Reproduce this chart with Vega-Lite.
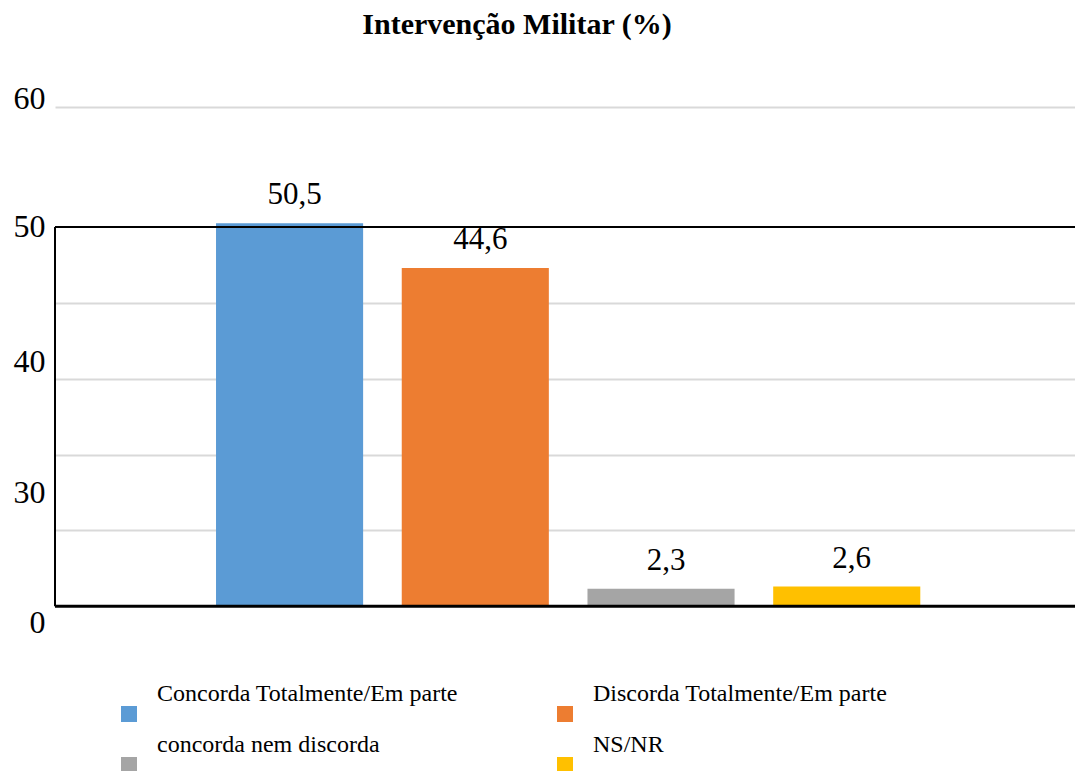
{
  "$schema": "https://vega.github.io/schema/vega-lite/v6.json",
  "width": 1020,
  "height": 531,
  "autosize": "none",
  "padding": {"left": 55, "top": 98, "right": 0, "bottom": 142},
  "background": "white",
  "config": {
    "view": {"stroke": null},
    "font": "'Liberation Serif', 'Times New Roman', serif",
    "locale": {"number": {"decimal": ",", "thousands": ".", "grouping": [3], "currency": ["R$", ""]}}
  },
  "title": {
    "text": "Intervenção Militar (%)",
    "font": "'Liberation Serif', 'Times New Roman', serif",
    "fontSize": 30,
    "fontWeight": "bold",
    "color": "black",
    "anchor": "middle",
    "frame": "group",
    "baseline": "alphabetic",
    "offset": 18,
    "dx": -48
  },
  "data": {
    "values": [
      {"categoria": "Concorda  Totalmente/Em  parte", "valor": 50.5},
      {"categoria": "Discorda Totalmente/Em parte", "valor": 44.6},
      {"categoria": "concorda  nem discorda", "valor": 2.3},
      {"categoria": "NS/NR", "valor": 2.6}
    ]
  },
  "layer": [
    {
      "mark": {"type": "bar"},
      "encoding": {
        "x": {
          "field": "categoria", "type": "nominal", "sort": null, "axis": null,
          "scale": {"paddingInner": 0.208, "paddingOuter": 0.85, "align": 0.51}
        },
        "y": {
          "field": "valor", "type": "quantitative",
          "scale": {"domain": [-3, 67], "nice": false, "zero": false},
          "axis": {
            "title": null,
            "values": [-2.2, 0, 10, 15, 20, 30, 32.2, 40, 50, 65.8, 67],
            "labelExpr": "datum.value == 67 ? '60' : datum.value == 50 ? '50' : datum.value == 32.2 ? '40' : datum.value == 15 ? '30' : datum.value == -2.2 ? '0' : ''",
            "grid": true,
            "gridColor": "#d9d9d9",
            "gridOpacity": {"condition": {"test": "datum.value == 67 || datum.value == 32.2 || datum.value == 15 || datum.value == -2.2 || datum.value == 0 || datum.value == 50", "value": 0}, "value": 1},
            "gridWidth": 2,
            "ticks": false,
            "tickSize": 0,
            "domain": false,
            "labelPadding": 10,
            "labelFont": "'Liberation Serif', 'Times New Roman', serif",
            "labelFontSize": 32,
            "labelColor": "black",
            "labelOverlap": false,
            "labelFlush": false
          }
        },
        "y2": {"datum": 0},
        "color": {
          "field": "categoria", "type": "nominal", "sort": null,
          "scale": {
            "domain": ["Concorda  Totalmente/Em  parte", "Discorda Totalmente/Em parte", "concorda  nem discorda", "NS/NR"],
            "range": ["#5B9BD5", "#ED7D31", "#A5A5A5", "#FFC000"]
          },
          "legend": {
            "title": null,
            "orient": "none",
            "direction": "horizontal",
            "legendX": 62,
            "legendY": 604,
            "columns": 2,
            "symbolType": "square",
            "symbolSize": 256,
            "symbolStrokeWidth": 0,
            "symbolOpacity": 1,
            "labelFont": "'Liberation Serif', 'Times New Roman', serif",
            "labelFontSize": 24,
            "labelColor": "black",
            "labelOffset": 16,
            "labelLimit": 600,
            "columnPadding": 83,
            "rowPadding": 11,
            "labelBaseline": "line-bottom",
            "padding": 0,
            "encoding": {"labels": {"lineHeight": {"value": 39}}}
          }
        }
      }
    },
    {
      "mark": {"type": "text", "fontSize": 31, "dy": -28, "dx": 5, "baseline": "middle", "font": "'Liberation Serif', 'Times New Roman', serif", "color": "black"},
      "encoding": {
        "x": {"field": "categoria", "type": "nominal", "sort": null},
        "y": {"field": "valor", "type": "quantitative"},
        "text": {"field": "valor", "type": "quantitative", "format": ".1f"}
      }
    },
    {
      "data": {"values": [{}]},
      "mark": {"type": "rule", "color": "black", "strokeWidth": 2},
      "encoding": {"y": {"datum": 50}}
    },
    {
      "data": {"values": [{}]},
      "mark": {"type": "rule", "color": "black", "strokeWidth": 3},
      "encoding": {"y": {"datum": 0}}
    },
    {
      "data": {"values": [{}]},
      "mark": {"type": "rule", "color": "black", "strokeWidth": 2},
      "encoding": {"x": {"value": 0}, "y": {"datum": 0}, "y2": {"datum": 50}}
    }
  ]
}
